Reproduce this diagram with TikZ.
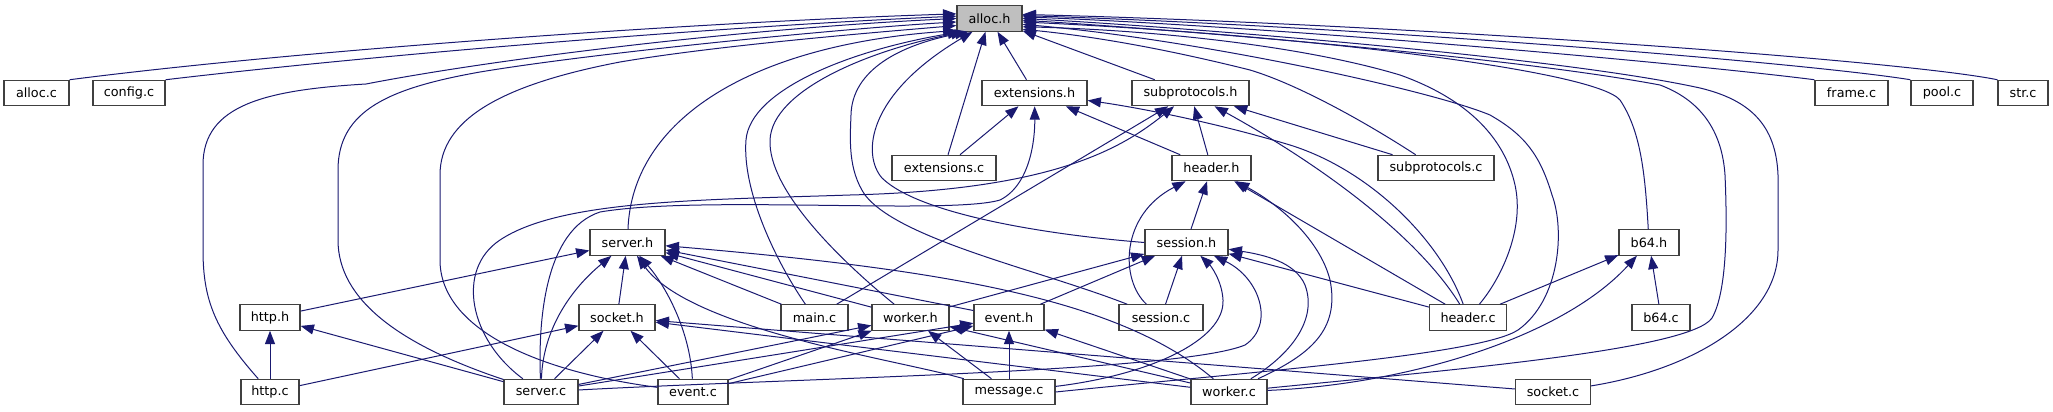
\documentclass[tikz,border=0pt]{standalone}
\usepackage{fontspec}
\setmainfont{DejaVu Sans}
\usetikzlibrary{arrows.meta}
\definecolor{dxedge}{HTML}{191970}
\definecolor{dxbox}{HTML}{404040}
\definecolor{dxfill}{HTML}{BFBFBF}
\begin{document}
\begin{tikzpicture}[>={Triangle[length=10pt,width=7.5pt]}, x=0.75pt, y=-0.75pt,
  file/.style={draw=dxbox, line width=0.9pt, fill=white, rectangle, minimum height=19pt, inner sep=0pt, font=\fontsize{9.6}{11}\selectfont},
  inc/.style={->, draw=dxedge, line width=0.75pt}]
\useasboundingbox (0,0) rectangle (2053,411);

\node[file, fill=dxfill, minimum width=48.75pt] (ah) at (989.5,18.5) {alloc.h};
\node[file, minimum width=48.75pt] (ac) at (36.5,93) {alloc.c};
\node[file, minimum width=54pt] (cc) at (129,93) {config.c};
\node[file, minimum width=78.75pt] (eh) at (1034.5,93) {extensions.h};
\node[file, minimum width=87.75pt] (sph) at (1190.5,93) {subprotocols.h};
\node[file, minimum width=54.75pt] (fc) at (1851.5,93) {frame.c};
\node[file, minimum width=46.5pt] (pc) at (1942,93) {pool.c};
\node[file, minimum width=37.5pt] (stc) at (2023,93) {str.c};
\node[file, minimum width=78pt] (extc) at (944,168) {extensions.c};
\node[file, minimum width=59.25pt] (hh) at (1211.5,168) {header.h};
\node[file, minimum width=87pt] (spc) at (1436,168) {subprotocols.c};
\node[file, minimum width=56.25pt] (srh) at (627.5,242.5) {server.h};
\node[file, minimum width=62.25pt] (ssh) at (1186.5,242.5) {session.h};
\node[file, minimum width=45pt] (bh) at (1649,242.5) {b64.h};
\node[file, minimum width=45pt] (hth) at (270,317.5) {http.h};
\node[file, minimum width=57pt] (skh) at (617,317.5) {socket.h};
\node[file, minimum width=50.25pt] (mc) at (814.5,317.5) {main.c};
\node[file, minimum width=57.75pt] (wh) at (910.5,317.5) {worker.h};
\node[file, minimum width=52.5pt] (evh) at (1009,317.5) {event.h};
\node[file, minimum width=63pt] (ssc) at (1161,317.5) {session.c};
\node[file, minimum width=57.75pt] (hc) at (1468,317.5) {header.c};
\node[file, minimum width=43.5pt] (bc) at (1661,317.5) {b64.c};
\node[file, minimum width=43.5pt] (htc) at (270,392) {http.c};
\node[file, minimum width=55.5pt] (src) at (541,392) {server.c};
\node[file, minimum width=52.5pt] (evc) at (693,392) {event.c};
\node[file, minimum width=69pt] (msc) at (1009,392) {message.c};
\node[file, minimum width=57pt] (wc) at (1229,392) {worker.c};
\node[file, minimum width=56.25pt] (skc) at (1553,392) {socket.c};

\draw[inc] (ac.north east) .. controls (300,50) and (700,22) .. (ah.172);
\draw[inc] (cc.north east) .. controls (400,52) and (750,25) .. (ah.176);
\draw[inc] (htc) .. controls (215,330) and (203,300) .. (203,250) -- (203,165) .. controls (203,105) and (265,90) .. (366,84) .. controls (500,58) and (750,28) .. (ah.180);
\draw[inc] (src) .. controls (400,345) and (338,300) .. (338,240) -- (338,170) .. controls (338,110) and (390,88) .. (480,72) .. controls (600,52) and (850,28) .. (ah.186);
\draw[inc] (evc) .. controls (540,372) and (440,330) .. (440,260) -- (440,175) .. controls (440,120) and (500,85) .. (620,62) .. controls (720,45) and (880,32) .. (ah.192);
\draw[inc] (srh) .. controls (632,120) and (750,45) .. (ah.200);
\draw[inc] (mc) .. controls (775,260) and (742,190) .. (746,140) .. controls (750,90) and (850,50) .. (ah.205);
\draw[inc] (wh) .. controls (840,260) and (768,190) .. (770,140) .. controls (772,90) and (870,50) .. (ah.208);
\draw[inc] (ssc) .. controls (1040,270) and (900,240) .. (865,195) .. controls (848,170) and (850,140) .. (851,115) .. controls (852,70) and (900,45) .. (ah.212);
\draw[inc] (ssh.west) .. controls (1050,235) and (920,215) .. (882,178) .. controls (862,155) and (866,95) .. (ah.218);
\draw[inc] (extc) -- (ah);
\draw[inc] (eh) -- (ah);
\draw[inc] (sph) -- (ah);
\draw[inc] (spc) .. controls (1370,125) and (1300,85) .. (1250,70) .. controls (1150,45) and (1080,35) .. (ah.342);
\draw[inc] (hc) .. controls (1500,280) and (1525,230) .. (1515,185) .. controls (1505,140) and (1470,100) .. (1400,75) .. controls (1300,45) and (1150,30) .. (ah.346);
\draw[inc] (msc.east) .. controls (1250,372) and (1480,355) .. (1518,330) .. controls (1560,300) and (1565,230) .. (1552,195) .. controls (1540,155) and (1525,135) .. (1490,115) .. controls (1430,90) and (1200,40) .. (ah.350);
\draw[inc] (bh) .. controls (1645,170) and (1640,130) .. (1620,100) .. controls (1595,70) and (1300,35) .. (ah.354);
\draw[inc] (wc) .. controls (1450,370) and (1690,350) .. (1712,318) .. controls (1728,290) and (1727,220) .. (1725,175) .. controls (1722,130) and (1700,100) .. (1660,85) .. controls (1500,55) and (1150,28) .. (ah.357);
\draw[inc] (skc) .. controls (1690,370) and (1778,320) .. (1778,250) -- (1778,175) .. controls (1776,125) and (1750,100) .. (1700,88) .. controls (1550,55) and (1150,25) .. (ah.0);
\draw[inc] (fc.north west) .. controls (1700,65) and (1300,28) .. (ah.3);
\draw[inc] (pc.north west) .. controls (1800,62) and (1350,26) .. (ah.5);
\draw[inc] (stc.north west) .. controls (1900,60) and (1400,24) .. (ah.7);

\draw[inc] (extc) -- (eh);
\draw[inc] (src) .. controls (538,320) and (545,230) .. (600,212) .. controls (700,195) and (950,215) .. (1000,200) .. controls (1030,185) and (1035,140) .. (eh);
\draw[inc] (hh) -- (eh);
\draw[inc] (hc) .. controls (1440,240) and (1370,170) .. (1290,145) .. controls (1200,118) and (1120,105) .. (eh);

\draw[inc] (src) .. controls (470,340) and (455,270) .. (500,240) .. controls (560,200) and (700,200) .. (850,195) .. controls (1050,190) and (1120,150) .. (sph);
\draw[inc] (mc) -- (sph);
\draw[inc] (hh) -- (sph);
\draw[inc] (spc) -- (sph);
\draw[inc] (hc) .. controls (1420,240) and (1330,170) .. (sph);

\draw[inc] (ssc) .. controls (1120,280) and (1120,215) .. (hh);
\draw[inc] (ssh) -- (hh);
\draw[inc] (wc) .. controls (1310,355) and (1340,330) .. (1330,280) .. controls (1320,240) and (1280,205) .. (hh);
\draw[inc] (hc) -- (hh);

\draw[inc] (wh) -- (ssh);
\draw[inc] (evh) -- (ssh);
\draw[inc] (ssc) -- (ssh);
\draw[inc] (msc) .. controls (1150,375) and (1225,340) .. (1223,300) .. controls (1222,280) and (1210,265) .. (ssh);
\draw[inc] (src) .. controls (800,378) and (1180,372) .. (1245,345) .. controls (1275,325) and (1260,278) .. (ssh);
\draw[inc] (wc) .. controls (1290,355) and (1318,320) .. (1305,285) .. controls (1295,262) and (1265,255) .. (ssh);
\draw[inc] (hc) -- (ssh);

\draw[inc] (hth) -- (srh);
\draw[inc] (src) .. controls (543,330) and (570,290) .. (srh);
\draw[inc] (skh) -- (srh);
\draw[inc] (evc) .. controls (690,330) and (665,285) .. (srh);
\draw[inc] (msc) .. controls (900,360) and (690,330) .. (srh);
\draw[inc] (mc) -- (srh);
\draw[inc] (wh) -- (srh);
\draw[inc] (evh) -- (srh);
\draw[inc] (wc) .. controls (1120,300) and (950,270) .. (srh);

\draw[inc] (htc) -- (skh);
\draw[inc] (src) -- (skh);
\draw[inc] (evc) -- (skh);
\draw[inc] (skc) -- (skh);
\draw[inc] (wc) -- (skh);

\draw[inc] (htc) -- (hth);
\draw[inc] (src) -- (hth);

\draw[inc] (src) -- (wh);
\draw[inc] (evc) -- (wh);
\draw[inc] (msc) -- (wh);
\draw[inc] (wc) -- (wh);

\draw[inc] (src) -- (evh);
\draw[inc] (evc) -- (evh);
\draw[inc] (msc) -- (evh);
\draw[inc] (wc) -- (evh);

\draw[inc] (hc) -- (bh);
\draw[inc] (bc) -- (bh);
\draw[inc] (wc) .. controls (1400,385) and (1560,340) .. (bh);
\end{tikzpicture}
\end{document}
